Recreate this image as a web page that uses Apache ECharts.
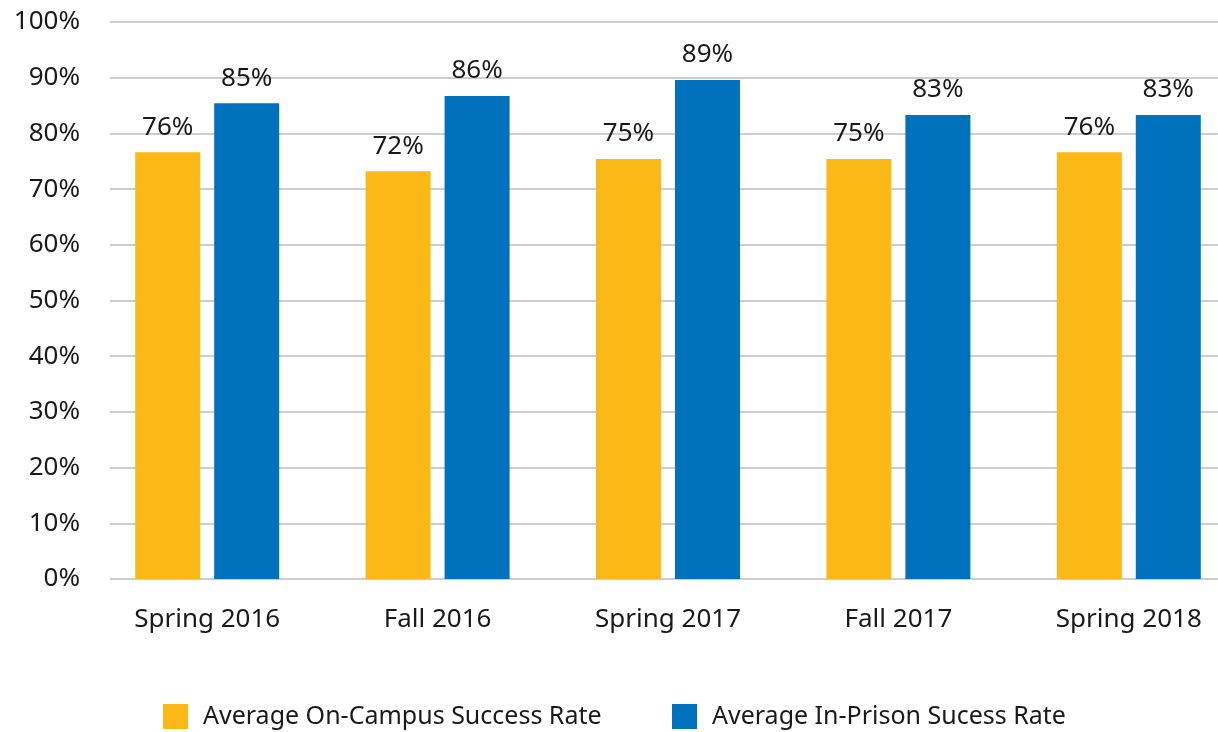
<!DOCTYPE html>
<html>
<head>
<meta charset="utf-8">
<script src="https://cdn.jsdelivr.net/npm/echarts@6/dist/echarts.min.js"></script>
<style>
  html, body { margin: 0; padding: 0; background: #fff; }
  #chart { width: 1218px; height: 732px; }
</style>
</head>
<body>
<div id="chart"></div>
<script>
// data
const terms = ['Spring 2016', 'Fall 2016', 'Spring 2017', 'Fall 2017', 'Spring 2018']
const onCampus = [76.6, 73.2, 75.4, 75.4, 76.6]
const inPrison = [85.4, 86.7, 89.6, 83.3, 83.3]
// printed labels (source rounds differently from bar heights)
const onCampusLabels = ['76%', '72%', '75%', '75%', '76%']
const inPrisonLabels = ['85%', '86%', '89%', '83%', '83%']
const yTicks = [0, 10, 20, 30, 40, 50, 60, 70, 80, 90, 100]

const font = 'Noto Sans'
const myChart = echarts.init(document.getElementById('chart'))

const legendText = { fontSize: 25, lineHeight: 25, color: '#1a1a1a', fontFamily: font, padding: [0, 0, 0, 10] }

const option = {
    backgroundColor: '#fff',
    textStyle: { fontFamily: font },
    animation: false,
    legend: [
        {
            data: ['Average On-Campus Success Rate'],
            left: 163, top: 704, padding: 0,
            itemWidth: 25, itemHeight: 25,
            icon: 'rect',
            textStyle: legendText
        },
        {
            data: ['Average In-Prison Sucess Rate'],
            left: 672, top: 704, padding: 0,
            itemWidth: 25, itemHeight: 25,
            icon: 'rect',
            textStyle: legendText
        }
    ],
    grid: [
        // gridlines + y labels
        { left: 110, right: 0, top: 22, bottom: 153, outerBoundsMode: 'none' },
        // bars (category bands run a bit past the right edge)
        { left: 92, width: 1152, top: 22, bottom: 153, outerBoundsMode: 'none' }
    ],
    xAxis: [
        { type: 'category', gridIndex: 0, data: terms, show: false },
        {
            type: 'category', gridIndex: 1, data: terms,
            axisLine: { show: false },
            axisTick: { show: false },
            axisLabel: { fontSize: 26, color: '#1a1a1a', margin: 28 }
        }
    ],
    yAxis: [
        {
            type: 'value', gridIndex: 0,
            min: yTicks[0], max: yTicks[yTicks.length - 1], interval: 10,
            axisLine: { show: false },
            axisTick: { show: false },
            axisLabel: { fontSize: 26, color: '#1a1a1a', margin: 30, formatter: '{value}%' },
            splitLine: { lineStyle: { color: '#babcbe', width: 1.5 } }
        },
        {
            type: 'value', gridIndex: 1,
            min: yTicks[0], max: yTicks[yTicks.length - 1], interval: 10,
            show: false,
            splitLine: { show: false }
        }
    ],
    series: [
        {
            name: 'Average On-Campus Success Rate',
            type: 'bar',
            xAxisIndex: 1, yAxisIndex: 1,
            data: onCampus,
            barWidth: 65,
            barGap: '21.5%',
            itemStyle: { color: '#fbb817' },
            label: {
                show: true, position: 'top', distance: 12,
                fontSize: 26, color: '#1a1a1a',
                formatter: (p) => onCampusLabels[p.dataIndex]
            }
        },
        {
            name: 'Average In-Prison Sucess Rate',
            type: 'bar',
            xAxisIndex: 1, yAxisIndex: 1,
            data: inPrison,
            barWidth: 65,
            barGap: '21.5%',
            itemStyle: { color: '#0071bc' },
            label: {
                show: true, position: 'top', distance: 12,
                fontSize: 26, color: '#1a1a1a',
                formatter: (p) => inPrisonLabels[p.dataIndex]
            }
        }
    ]
}

option && myChart.setOption(option)
</script>
</body>
</html>
